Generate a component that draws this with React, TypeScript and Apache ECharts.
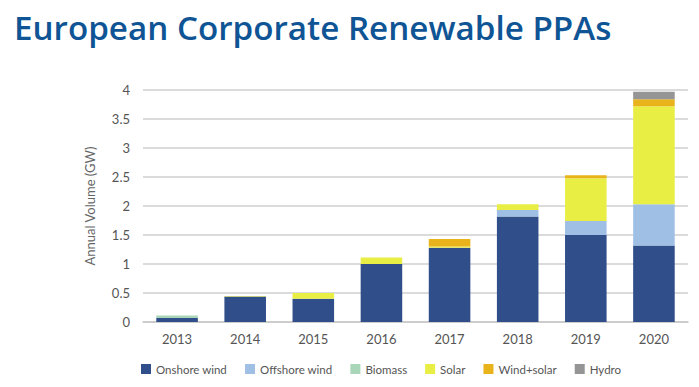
import React, { useEffect, useRef } from "react";
import * as echarts from "echarts";

const years = ["2013", "2014", "2015", "2016", "2017", "2018", "2019", "2020"];
const onshoreWind = [0.07, 0.44, 0.4, 1.0, 1.28, 1.82, 1.5, 1.32];
const offshoreWind = [0, 0, 0, 0, 0, 0.11, 0.24, 0.71];
const biomass = [0.04, 0, 0, 0, 0, 0, 0, 0];
const solar = [0, 0.01, 0.1, 0.11, 0.02, 0.1, 0.74, 1.69];
const windSolar = [0, 0, 0, 0, 0.13, 0, 0.05, 0.12];
const hydro = [0, 0, 0, 0, 0, 0, 0, 0.13];

const seriesDefs = [
  { name: "Onshore wind", data: onshoreWind, color: "#2f4e8a" },
  { name: "Offshore wind", data: offshoreWind, color: "#9fbfe5" },
  { name: "Biomass", data: biomass, color: "#a9d6b8" },
  { name: "Solar", data: solar, color: "#e9ee45" },
  { name: "Wind+solar", data: windSolar, color: "#e9b31c" },
  { name: "Hydro", data: hydro, color: "#959595" },
];

const labelFont = "Lato, 'DejaVu Sans', sans-serif";

export default function App() {
  const ref = useRef<HTMLDivElement>(null);
  useEffect(() => {
    if (!ref.current) return;
    const chart = echarts.init(ref.current, null, { renderer: "svg" });
    chart.setOption({
      animation: false,
      backgroundColor: "#ffffff",
      title: {
        text: "European Corporate Renewable PPAs",
        left: 9,
        top: 6,
        textStyle: {
          fontFamily: "'Open Sans', sans-serif",
          fontWeight: 600,
          fontSize: 33.2,
          color: "#0f5595",
        },
      },
      legend: {
        bottom: 7,
        left: 136,
        itemWidth: 10,
        itemHeight: 10,
        itemGap: 18,
        icon: "rect",
        textStyle: { fontFamily: labelFont, fontSize: 11.5, color: "#555555" },
        data: seriesDefs.map((s) => s.name),
      },
      grid: { left: 143, right: 11, top: 90, bottom: 65 },
      xAxis: {
        type: "category",
        data: years,
        axisTick: { show: false },
        axisLine: { lineStyle: { color: "#c8c8c8", width: 1.5 } },
        axisLabel: { fontFamily: labelFont, fontSize: 13, color: "#555555", margin: 10 },
      },
      yAxis: {
        type: "value",
        min: 0,
        max: 4,
        interval: 0.5,
        name: "Annual Volume (GW)",
        nameLocation: "middle",
        nameGap: 47,
        nameTextStyle: { fontFamily: labelFont, fontSize: 13, color: "#666666" },
        axisLine: { show: false },
        axisTick: { show: false },
        splitLine: { lineStyle: { color: "#cfcfcf", width: 1.5 } },
        axisLabel: { fontFamily: labelFont, fontSize: 13, color: "#555555", margin: 13 },
      },
      series: seriesDefs.map((s) => ({
        name: s.name,
        type: "bar",
        stack: "total",
        barWidth: "61%",
        data: s.data,
        itemStyle: { color: s.color },
      })),
    });
    return () => chart.dispose();
  }, []);
  return <div ref={ref} style={{ width: 699, height: 387, position: "absolute", left: 0, top: 0 }} />;
}
